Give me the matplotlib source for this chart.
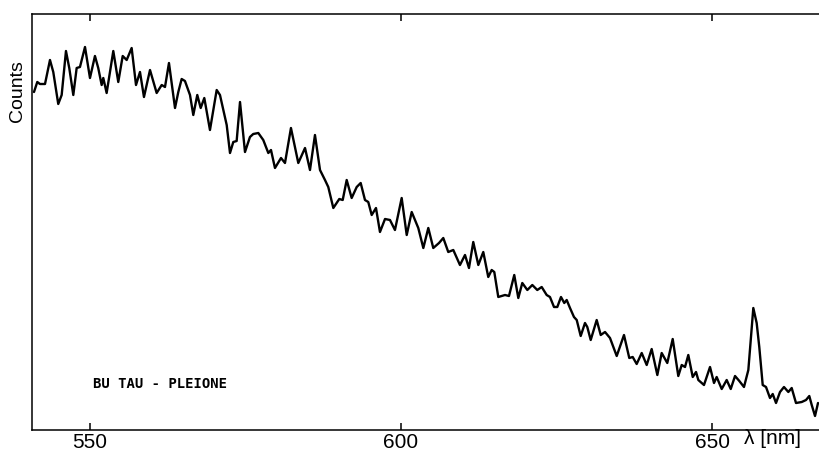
import matplotlib
matplotlib.use("Agg")
import matplotlib.pyplot as plt

wavelength = [
    541.00, 541.53, 541.96, 542.77, 543.57, 544.10, 544.90, 545.45, 546.14, 546.67,
    547.32, 547.86, 548.39, 549.20, 550.00, 550.80, 551.33, 551.88, 552.14, 552.68,
    553.75, 554.55, 555.26, 555.90, 556.70, 557.40, 558.04, 558.68, 559.65, 560.72,
    561.53, 562.06, 562.70, 563.67, 564.20, 564.74, 565.27, 566.08, 566.61, 567.25,
    567.80, 568.38, 569.29, 570.37, 570.90, 571.98, 572.51, 573.04, 573.58, 574.12,
    574.92, 575.72, 576.25, 577.06, 577.86, 578.67, 579.10, 579.74, 580.71, 581.35,
    582.31, 583.49, 584.57, 585.37, 586.17, 586.98, 587.78, 588.31, 589.12, 590.08,
    590.63, 591.27, 592.07, 592.88, 593.52, 594.21, 594.74, 595.29, 595.98, 596.62,
    597.43, 598.23, 599.03, 600.11, 600.92, 601.72, 602.78, 603.59, 604.39, 605.19,
    606.11, 606.80, 607.60, 608.41, 609.48, 610.29, 610.93, 611.62, 612.43, 613.23,
    614.03, 614.58, 615.00, 615.64, 616.72, 617.36, 618.21, 618.86, 619.50, 620.31,
    621.11, 621.91, 622.62, 623.42, 623.95, 624.60, 625.13, 625.72, 626.25, 626.64,
    627.17, 627.81, 628.25, 628.89, 629.58, 629.95, 630.50, 631.46, 632.11, 632.80,
    633.60, 634.68, 635.85, 636.70, 637.25, 637.89, 638.70, 639.50, 640.30, 641.21,
    641.91, 642.81, 643.68, 644.58, 645.13, 645.66, 646.19, 646.90, 647.43, 647.80,
    648.71, 649.68, 650.32, 650.75, 651.56, 652.36, 653.01, 653.70, 654.39, 655.14,
    655.84, 656.64, 657.18, 657.60, 658.15, 658.68, 659.32, 659.76, 660.29, 660.93,
    661.57, 662.27, 662.81, 663.50, 664.42, 665.11, 665.64, 666.03, 666.56, 667.04,
]
counts = [
    338, 348, 346, 346, 370, 358, 326, 335, 379, 362,
    335, 362, 363, 383, 352, 374, 362, 345, 352, 337,
    379, 348, 374, 370, 382, 345, 358, 333, 360, 337,
    345, 343, 367, 322, 338, 351, 349, 335, 315, 335,
    322, 332, 300, 340, 335, 305, 277, 288, 289, 328,
    278, 293, 296, 297, 290, 277, 280, 262, 272, 267,
    302, 267, 282, 260, 295, 260, 250, 243, 222, 231,
    230, 250, 232, 243, 247, 230, 228, 215, 222, 198,
    211, 210, 200, 232, 195, 218, 202, 182, 202, 182,
    187, 192, 178, 180, 165, 175, 162, 188, 165, 178,
    153, 160, 158, 133, 135, 134, 155, 132, 147, 140,
    145, 140, 143, 135, 133, 123, 123, 133, 127, 130,
    122, 113, 110, 94, 107, 103, 90, 110, 95, 98,
    92, 74, 95, 72, 73, 66, 77, 65, 81, 55,
    77, 67, 91, 54, 65, 63, 75, 53, 58, 50,
    45, 63, 47, 53, 41, 50, 41, 54, 49, 43,
    60, 122, 107, 83, 45, 43, 32, 36, 27, 38,
    43, 38, 42, 27, 28, 30, 34, 25, 14, 27,
]
xticks = [550, 600, 650]

fig = plt.figure(figsize=(8.19, 4.54), dpi=100)
ax = fig.add_axes([32 / 819, 24 / 454, 787 / 819, 416 / 454])

ax.plot(wavelength, counts, color="black", linewidth=1.7,
        solid_joinstyle="round", solid_capstyle="round")

ax.set_xlim(540.68, 667.2)
ax.set_ylim(0, 416)
ax.spines["right"].set_visible(False)
for side in ["left", "top", "bottom"]:
    ax.spines[side].set_linewidth(1.1)

ax.set_xticks(xticks)
ax.set_xticklabels([str(t) for t in xticks], family="Liberation Sans", fontsize=15)
ax.set_yticks([])
ax.tick_params(axis="x", direction="in", top=True, length=5, width=1.1, pad=2)

fig.text(17.5 / 819, 1 - 91 / 454, "Counts", rotation=90, ha="center", va="center",
         family="Liberation Sans", fontsize=14)
fig.text(772 / 819, 1 - 439 / 454, "λ [nm]", ha="center", va="center",
         family="Liberation Sans", fontsize=15)
fig.text(160 / 819, 1 - 384 / 454, "BU TAU - PLEIONE", ha="center", va="center",
         family="DejaVu Sans Mono", fontsize=10, fontweight="bold")

fig.savefig("out.png", dpi=100)
